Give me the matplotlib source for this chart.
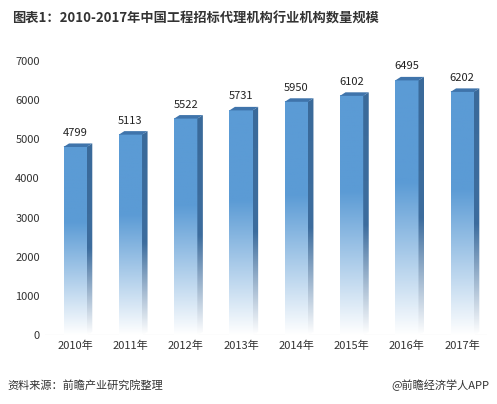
import numpy as np
import matplotlib.pyplot as plt
from matplotlib.patches import Polygon, Rectangle
from matplotlib.colors import LinearSegmentedColormap

plt.rcParams['font.family'] = ['Noto Sans CJK SC', 'DejaVu Sans']

years = ['2010年', '2011年', '2012年', '2013年', '2014年', '2015年', '2016年', '2017年']
counts = [4799, 5113, 5522, 5731, 5950, 6102, 6495, 6202]

fig = plt.figure(figsize=(4.97, 4.04), dpi=100)
ax = fig.add_axes([0.09, 0.17, 0.89, 0.68])

w = 0.42
dx, dy = 0.1, 90
front = LinearSegmentedColormap.from_list('f', [(0, '#ffffff'), (0.6, '#5b9bd5'), (1, '#5b9bd5')])
side = LinearSegmentedColormap.from_list('s', [(0, '#ffffff'), (0.45, '#3d6d9e'), (1, '#3a6a9a')])
grad = np.linspace(0, 1, 256).reshape(-1, 1)

for i, v in enumerate(counts):
    x0 = i - w / 2
    # front face
    im = ax.imshow(grad, cmap=front, origin='lower', aspect='auto',
                   extent=[x0, x0 + w, 0, v], zorder=2)
    # side face
    sp = Polygon([(x0 + w, 0), (x0 + w + dx, dy), (x0 + w + dx, v + dy), (x0 + w, v)],
                 closed=True, facecolor='none', edgecolor='none')
    ax.add_patch(sp)
    im2 = ax.imshow(grad, cmap=side, origin='lower', aspect='auto',
                    extent=[x0 + w, x0 + w + dx, 0, v + dy], zorder=2)
    im2.set_clip_path(sp)
    # top face
    ax.add_patch(Polygon([(x0, v), (x0 + dx, v + dy), (x0 + w + dx, v + dy), (x0 + w, v)],
                         closed=True, facecolor='#3f74ab', edgecolor='none', zorder=3))
    ax.text(i, v + 230, str(v), ha='center', va='bottom', fontsize=8, color='#222222')

ax.set_xlim(-0.55, 7.45)
ax.set_ylim(0, 7000)
ax.set_yticks(range(0, 7001, 1000))
ax.set_xticks(range(len(years)))
ax.set_xticklabels(years)
ax.tick_params(axis='both', length=0, labelsize=8, colors='#333333')
for s in ax.spines.values():
    s.set_visible(False)
ax.axhline(0, color='#d9d9d9', lw=0.8, zorder=1)

fig.text(0.025, 0.955, '图表1：2010-2017年中国工程招标代理机构行业机构数量规模',
         fontsize=9.5, fontweight='bold', color='#333333', va='center')
fig.text(0.015, 0.045, '资料来源：前瞻产业研究院整理', fontsize=8, style='italic',
         color='#333333', va='center')
fig.text(0.985, 0.045, '@前瞻经济学人APP', fontsize=8, color='#333333',
         va='center', ha='right')

fig.savefig('out.png', dpi=100)
